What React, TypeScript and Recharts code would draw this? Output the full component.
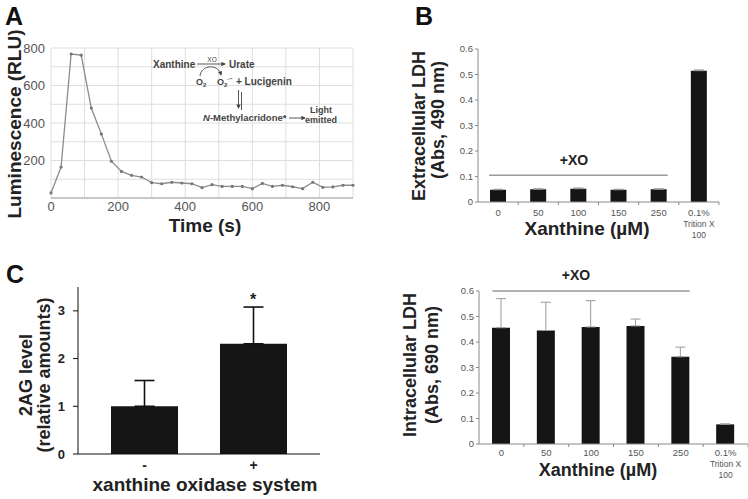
import {
  Bar,
  BarChart,
  CartesianGrid,
  ErrorBar,
  Line,
  LineChart,
  ReferenceLine,
  XAxis,
  YAxis,
} from "recharts";

const FONT = "'Liberation Sans', Arial, Helvetica, sans-serif";

// Panel A: luminescence time course
const timeS = [
  0, 30, 60, 90, 120, 150, 180, 210, 240, 270, 300, 330, 360, 390, 420, 450,
  480, 510, 540, 570, 600, 630, 660, 690, 720, 750, 780, 810, 840, 870, 900,
];
const luminescence = [
  27, 165, 768, 762, 480, 342, 196, 142, 121, 112, 82, 76, 84, 80, 76, 55, 71,
  62, 62, 62, 50, 78, 62, 68, 60, 50, 84, 57, 59, 68, 68,
];
const timeTicks = [0, 100, 200, 300, 400, 500, 600, 700, 800, 900];
const rluTicks = [0, 100, 200, 300, 400, 500, 600, 700, 800];

// Panel B: LDH release
const xanthineLabels = ["0", "50", "100", "150", "250", "0.1%\nTrition X\n100"];
const extracellularLdh = [0.048, 0.05, 0.052, 0.048, 0.05, 0.515];
const extracellularErr = [0.002, 0.002, 0.003, 0.002, 0.002, 0.003];
const intracellularLdh = [0.456, 0.445, 0.459, 0.463, 0.342, 0.077];
const intracellularErr = [0.114, 0.111, 0.103, 0.027, 0.038, 0.002];
const absTicks = [0, 0.1, 0.2, 0.3, 0.4, 0.5, 0.6];

// Panel C: 2AG level
const xoGroups = ["-", "+"];
const agLevel = [1.0, 2.31];
const agErr = [0.54, 0.77];
const agTicks = [0, 1, 2, 3];

const lumData = timeS.map((t, i) => ({ t, rlu: luminescence[i] }));
const extData = xanthineLabels.map((name, i) => ({
  name,
  value: extracellularLdh[i],
  err: [0, extracellularErr[i]],
}));
const intData = xanthineLabels.map((name, i) => ({
  name,
  value: intracellularLdh[i],
  err: [0, intracellularErr[i]],
}));
const agData = xoGroups.map((group, i) => ({
  group,
  level: agLevel[i],
  err: [0, agErr[i]],
}));

function XanthineTick(props: any) {
  const { x, y, payload, base = 13 } = props;
  const half = payload?.offset ?? 20;
  const lines = String(payload.value).split("\n");
  return (
    <g>
      <line x1={x + half} x2={x + half} y1={y} y2={y + 3} stroke="#8a8a8a" />
      {lines.map((s, i) => (
        <text
          key={i}
          x={x}
          y={y + base + i * 11}
          textAnchor="middle"
          fontSize={i === 0 ? 9.5 : 8.5}
          fill="#555"
          fontFamily={FONT}
        >
          {s}
        </text>
      ))}
    </g>
  );
}

const xoLine = (props: any) => {
  const { x1, x2, y1, y2 } = props;
  return <line x1={x1 - 9} x2={x2 + 9} y1={y1} y2={y2} stroke="#9a9a9a" strokeWidth={1.3} />;
};

const absFmt = (v: number) => (v === 0 ? "0" : v.toFixed(1));

function LdhChart({
  data,
  width,
  height,
  margin,
  yWidth,
  barSize,
  xoY,
  tickBase,
}: {
  data: any[];
  width: number;
  height: number;
  margin: any;
  yWidth: number;
  barSize: number;
  xoY: number;
  tickBase: number;
}) {
  return (
    <BarChart width={width} height={height} data={data} margin={margin} barSize={barSize}>
      <XAxis
        dataKey="name"
        height={30}
        interval={0}
        tickLine={false}
        tickSize={0}
        tickMargin={0}
        axisLine={{ stroke: "#8a8a8a" }}
        tick={<XanthineTick base={tickBase} />}
      />
      <YAxis
        type="number"
        domain={[0, 0.6]}
        ticks={absTicks}
        width={yWidth}
        tickFormatter={absFmt}
        tickSize={3}
        tickMargin={2}
        tickLine={{ stroke: "#8a8a8a" }}
        axisLine={{ stroke: "#8a8a8a" }}
        tick={{ fill: "#555", fontSize: 9.5, fontFamily: FONT }}
      />
      <ReferenceLine
        segment={[
          { x: "0", y: xoY },
          { x: "250", y: xoY },
        ]}
        shape={xoLine}
      />
      <Bar dataKey="value" fill="#151515" isAnimationActive={false}>
        <ErrorBar dataKey="err" direction="y" stroke="#9a9a9a" strokeWidth={1} width={5} />
      </Bar>
    </BarChart>
  );
}

const t: any = { fontFamily: FONT, fontWeight: 700, fill: "#222" };
const ann: any = { fontFamily: FONT, fontWeight: 700, fill: "#444", fontSize: 10 };

export default function App() {
  return (
    <div
      style={{
        position: "absolute",
        left: 0,
        top: 0,
        width: 748,
        height: 499,
        background: "#fff",
        overflow: "hidden",
      }}
    >
      {/* Panel A */}
      <div style={{ position: "absolute", left: 0, top: 0 }}>
        <LineChart
          width={370}
          height={245}
          data={lumData}
          margin={{ top: 48, right: 17, bottom: 17, left: 0 }}
        >
          <CartesianGrid stroke="#dedede" />
          <XAxis
            dataKey="t"
            type="number"
            domain={[0, 900]}
            ticks={timeTicks}
            interval={0}
            height={30}
            tickFormatter={(v: number) => (v % 200 === 0 ? String(v) : "")}
            tickLine={false}
            tickSize={4}
            tickMargin={0}
            axisLine={{ stroke: "#a0a0a0" }}
            tick={{ fill: "#555", fontSize: 13, fontFamily: FONT }}
          />
          <YAxis
            type="number"
            domain={[0, 800]}
            ticks={rluTicks}
            interval={0}
            width={51}
            tickFormatter={(v: number) => (v > 0 && v % 200 === 0 ? String(v) : "")}
            tickLine={false}
            tickSize={4}
            tickMargin={2}
            axisLine={false}
            tick={{ fill: "#555", fontSize: 13, fontFamily: FONT }}
          />
          <Line
            dataKey="rlu"
            stroke="#8c8c8c"
            strokeWidth={1.3}
            dot={{ r: 1.6, fill: "#777", stroke: "none" }}
            isAnimationActive={false}
          />
        </LineChart>
      </div>

      {/* Panel B top */}
      <div style={{ position: "absolute", left: 400, top: 0 }}>
        <LdhChart
          data={extData}
          width={348}
          height={240}
          margin={{ top: 49, right: 29, bottom: 8, left: 0 }}
          yWidth={78}
          barSize={16}
          xoY={0.105}
          tickBase={14}
        />
      </div>

      {/* Panel B bottom */}
      <div style={{ position: "absolute", left: 400, top: 240 }}>
        <LdhChart
          data={intData}
          width={348}
          height={259}
          margin={{ top: 51, right: 0, bottom: 25, left: 0 }}
          yWidth={79}
          barSize={18}
          xoY={0.6}
          tickBase={12}
        />
      </div>

      {/* Panel C */}
      <div style={{ position: "absolute", left: 0, top: 250 }}>
        <BarChart
          width={370}
          height={249}
          data={agData}
          margin={{ top: 37, right: 50, bottom: 20, left: 0 }}
          barSize={67}
        >
          <XAxis
            dataKey="group"
            height={25}
            padding={{ left: 12, right: 12 }}
            tickLine={false}
            tickSize={0}
            tickMargin={6}
            axisLine={{ stroke: "#111" }}
            tick={{ fill: "#222", fontSize: 14, fontWeight: 700, fontFamily: FONT }}
          />
          <XAxis
            xAxisId="top"
            dataKey="group"
            orientation="top"
            height={0}
            tick={false}
            tickLine={false}
            axisLine={{ stroke: "#111" }}
          />
          <YAxis
            type="number"
            domain={[0, 3.5]}
            ticks={agTicks}
            width={78}
            tickSize={5}
            tickMargin={8}
            tickLine={{ stroke: "#111" }}
            axisLine={{ stroke: "#111" }}
            tick={{ fill: "#222", fontSize: 13, fontWeight: 700, fontFamily: FONT }}
          />
          <YAxis
            yAxisId="right"
            orientation="right"
            type="number"
            domain={[0, 3.5]}
            width={0}
            tick={false}
            tickLine={false}
            axisLine={{ stroke: "#111" }}
          />
          <Bar dataKey="level" fill="#151515" isAnimationActive={false}>
            <ErrorBar dataKey="err" direction="y" stroke="#111" strokeWidth={1.6} width={10} />
          </Bar>
        </BarChart>
      </div>

      {/* Text overlay */}
      <svg
        width={748}
        height={499}
        style={{ position: "absolute", left: 0, top: 0, pointerEvents: "none" }}
      >
        <defs>
          <marker id="ah" markerWidth="5" markerHeight="5" refX="4" refY="2.5" orient="auto">
            <path d="M0,0 L5,2.5 L0,5 z" fill="#444" />
          </marker>
        </defs>

        {/* Panel letters */}
        <text x={5} y={25} fontSize={25} {...t} fill="#111">A</text>
        <text x={415} y={25} fontSize={25} {...t} fill="#111">B</text>
        <text x={6} y={283} fontSize={25} {...t} fill="#111">C</text>

        {/* Panel A titles */}
        <text transform="translate(21,124) rotate(-90)" textAnchor="middle" fontSize={19} {...t}>
          Luminescence (RLU)
        </text>
        <text x={205} y={232} textAnchor="middle" fontSize={19} {...t}>
          Time (s)
        </text>

        {/* Panel A reaction scheme */}
        <text x={153} y={68} {...ann}>Xanthine</text>
        <line x1={197} y1={64} x2={225} y2={64} stroke="#444" strokeWidth={0.9} markerEnd="url(#ah)" />
        <text x={212} y={62} textAnchor="middle" {...ann} fontSize={6.5} fontWeight={400}>XO</text>
        <text x={229} y={68} {...ann}>Urate</text>
        <path d="M 200 76 C 201 65, 218 63, 221 75" fill="none" stroke="#444" strokeWidth={0.9} markerEnd="url(#ah)" />
        <text x={196} y={85} {...ann} fontSize={9}>
          O<tspan fontSize={6} dy={2}>2</tspan>
        </text>
        <text x={217} y={85} {...ann} fontSize={9}>
          O<tspan fontSize={6} dy={2}>2</tspan>
          <tspan fontSize={6} dy={-6}>·−</tspan>
        </text>
        <text x={236} y={85} {...ann}>+ Lucigenin</text>
        <line x1={238.5} y1={90} x2={238.5} y2={108} stroke="#444" strokeWidth={0.9} markerEnd="url(#ah)" />
        <line x1={241.5} y1={92} x2={241.5} y2={110} stroke="#444" strokeWidth={0.9} />
        <text x={203} y={121} {...ann} fontSize={9.5}>
          <tspan fontStyle="italic">N</tspan>-Methylacridone*
        </text>
        <line x1={289} y1={118} x2={305} y2={118} stroke="#444" strokeWidth={0.9} markerEnd="url(#ah)" />
        <text x={321} y={113} textAnchor="middle" {...ann} fontSize={9}>Light</text>
        <text x={321} y={123} textAnchor="middle" {...ann} fontSize={9}>emitted</text>

        {/* Panel B top titles */}
        <text transform="translate(425,126) rotate(-90)" textAnchor="middle" fontSize={18} {...t}>
          Extracellular LDH
        </text>
        <text transform="translate(444,120) rotate(-90)" textAnchor="middle" fontSize={18} {...t}>
          (Abs, 490 nm)
        </text>
        <text x={587} y={235} textAnchor="middle" fontSize={19} {...t}>
          Xanthine (µM)
        </text>
        <text x={574} y={165} textAnchor="middle" fontSize={14} {...t}>
          +XO
        </text>

        {/* Panel B bottom titles */}
        <text transform="translate(416,365) rotate(-90)" textAnchor="middle" fontSize={18} {...t}>
          Intracellular LDH
        </text>
        <text transform="translate(438,365) rotate(-90)" textAnchor="middle" fontSize={18} {...t}>
          (Abs, 690 nm)
        </text>
        <text x={598} y={476} textAnchor="middle" fontSize={18} {...t}>
          Xanthine (µM)
        </text>
        <text x={576} y={280} textAnchor="middle" fontSize={14} {...t}>
          +XO
        </text>

        {/* Panel C titles */}
        <text transform="translate(32,375) rotate(-90)" textAnchor="middle" fontSize={18} {...t}>
          2AG level
        </text>
        <text transform="translate(50,375) rotate(-90)" textAnchor="middle" fontSize={18} {...t}>
          (relative amounts)
        </text>
        <text x={205} y={491} textAnchor="middle" fontSize={19} {...t}>
          xanthine oxidase system
        </text>
        <text x={253} y={305} textAnchor="middle" fontSize={16} {...t}>
          *
        </text>
      </svg>
    </div>
  );
}
